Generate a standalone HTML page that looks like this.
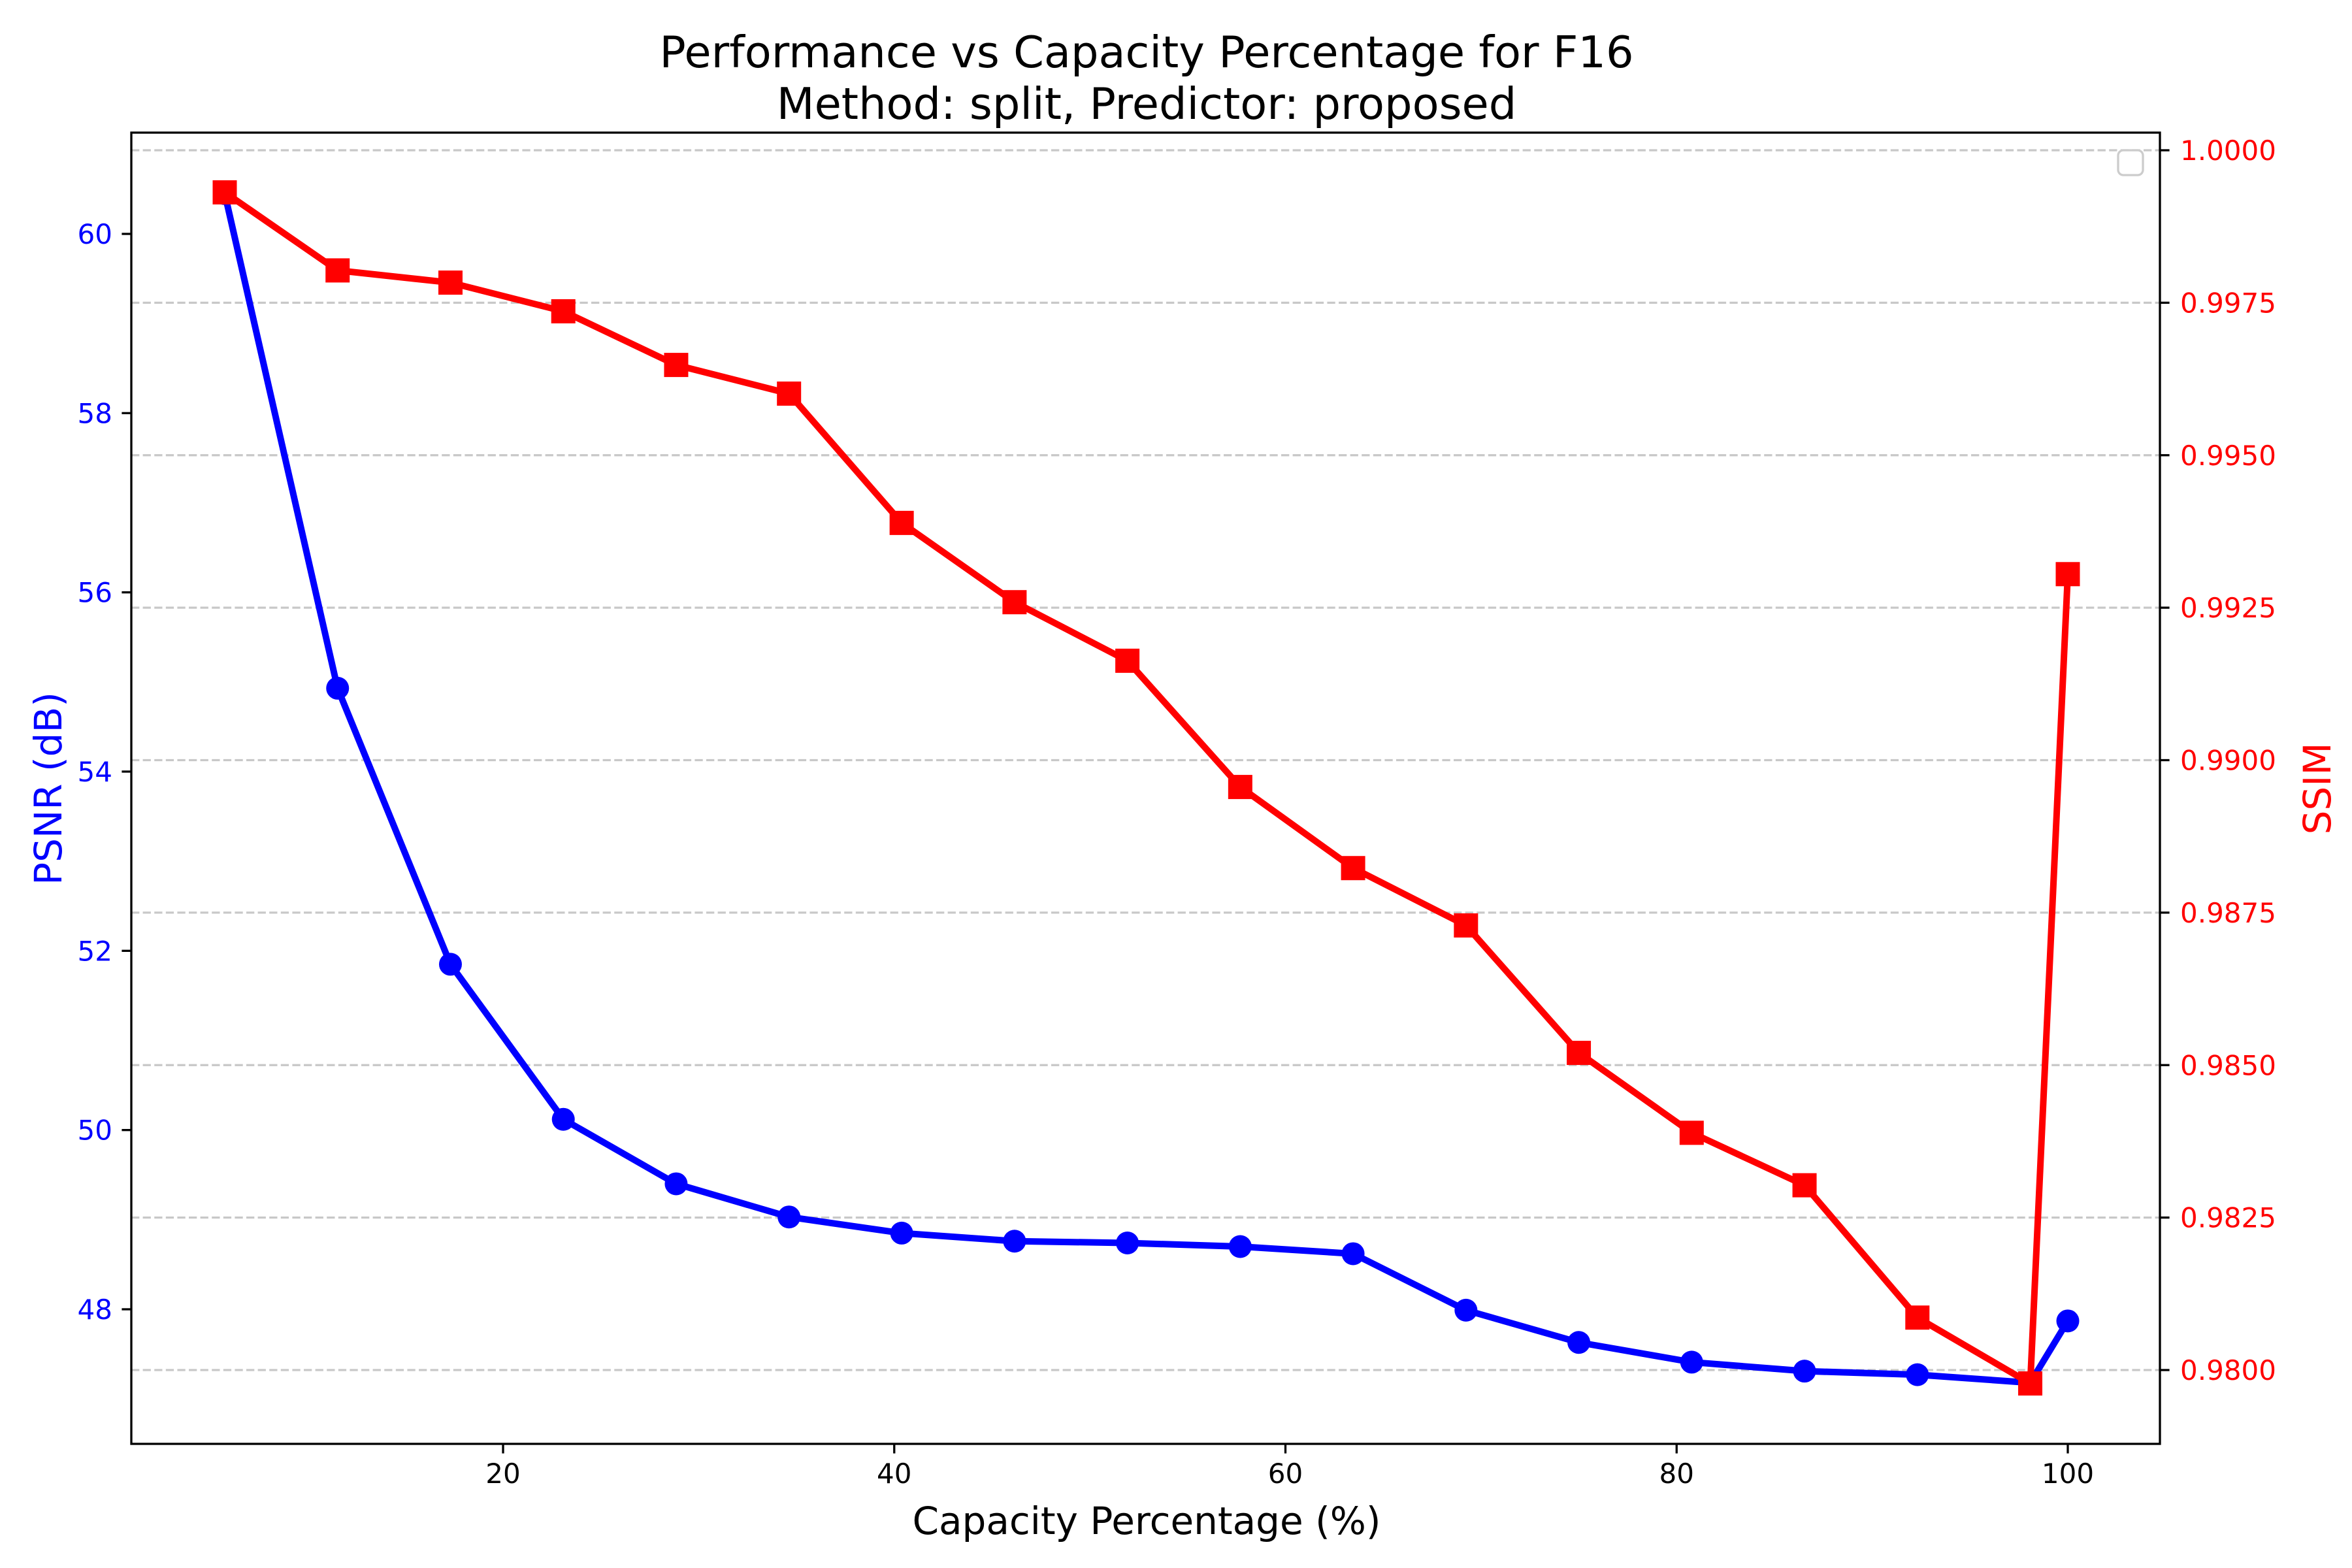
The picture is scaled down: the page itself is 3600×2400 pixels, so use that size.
<!DOCTYPE html>
<html><head><meta charset="utf-8"><style>
html,body{margin:0;padding:0;background:#fff;}
svg{display:block;font-family:"DejaVu Sans","Liberation Sans",sans-serif;}
</style></head><body>
<svg id="chart" width="3600" height="2400" viewBox="0 0 3600 2400">
<rect x="0" y="0" width="3600" height="2400" fill="#fff"/>
<g id="grid"></g>
<g id="series"></g>
<g id="axes"></g>
<text x="1755" y="103" text-anchor="middle" font-size="67">Performance vs Capacity Percentage for F16</text>
<text x="1755" y="182" text-anchor="middle" font-size="67">Method: split, Predictor: proposed</text>
<text x="1755" y="2348" text-anchor="middle" font-size="58">Capacity Percentage (%)</text>
<text transform="translate(94,1207) rotate(-90)" text-anchor="middle" font-size="58" fill="#0000ff">PSNR (dB)</text>
<text transform="translate(3567,1207) rotate(-90)" text-anchor="middle" font-size="58" fill="#ff0000">SSIM</text>
<rect x="3242" y="230" width="38" height="38" rx="8" fill="#fff" fill-opacity="0.8" stroke="#cccccc" stroke-width="3.3"/>
</svg>
<script>
const capacity = [5.77, 11.54, 17.31, 23.08, 28.85, 34.62, 40.38, 46.15, 51.92, 57.69, 63.46, 69.23, 75.0, 80.77, 86.54, 92.31, 98.08, 100];
const psnr = [60.45, 54.93, 51.85, 50.12, 49.40, 49.03, 48.85, 48.76, 48.74, 48.70, 48.62, 47.99, 47.63, 47.41, 47.31, 47.27, 47.18, 47.87];
const ssim = [0.99931, 0.99803, 0.99783, 0.99736, 0.99648, 0.99601, 0.99389, 0.99259, 0.99163, 0.98956, 0.98823, 0.98729, 0.98520, 0.98389, 0.98303, 0.98086, 0.97978, 0.99305];
const xTicks = [20, 40, 60, 80, 100];
const psnrTicks = [48, 50, 52, 54, 56, 58, 60];
const ssimTicks = [0.98, 0.9825, 0.985, 0.9875, 0.99, 0.9925, 0.995, 0.9975, 1.0];
const ssimTickLabels = ["0.9800","0.9825","0.9850","0.9875","0.9900","0.9925","0.9950","0.9975","1.0000"];

const L=201, R=3306, T=203, B=2210;
const X = v => 770 + (v-20)*(3165-770)/80;
const YL = v => 2004 - (v-48)*(2004-358)/12;
const YR = v => 2097 - (v-0.98)*(2097-230)/0.02;
const NS='http://www.w3.org/2000/svg';
function mk(tag, attrs, parent){const e=document.createElementNS(NS,tag);for(const k in attrs)e.setAttribute(k,attrs[k]);parent.appendChild(e);return e;}
const grid=document.getElementById('grid'), series=document.getElementById('series'), axes=document.getElementById('axes');

ssimTicks.forEach((t,i)=>{
  const y=YR(t);
  const g=mk('line',{x1:L,x2:R,y1:y,y2:y,stroke:'#c8c8c8','stroke-width':3.3,'stroke-dasharray':'12.3 5.3'},grid);
  
  
  const tk=mk('line',{x1:R,x2:R+14.6,y1:y,y2:y,stroke:'#000','stroke-width':3.3},axes);
  
  
  const tx=mk('text',{x:R+31,y:y+15,'font-size':42,fill:'#ff0000'},axes);
  tx.textContent=ssimTickLabels[i];
  
  
});
psnrTicks.forEach(t=>{
  const y=YL(t);
  const tk=mk('line',{x1:L-14.6,x2:L,y1:y,y2:y,stroke:'#000','stroke-width':3.3},axes);
  
  
  const tx=mk('text',{x:L-29,y:y+15,'font-size':42,fill:'#0000ff','text-anchor':'end'},axes);
  tx.textContent=String(t);
  
  
});
xTicks.forEach(t=>{
  const x=X(t);
  const tk=mk('line',{x1:x,x2:x,y1:B,y2:B+14.6,stroke:'#000','stroke-width':3.3},axes);
  
  
  const tx=mk('text',{x:x,y:B+60,'font-size':42,'text-anchor':'middle'},axes);
  tx.textContent=String(t);
  
  
});
const frame=mk('rect',{x:L,y:T,width:R-L,height:B-T,fill:'none',stroke:'#000','stroke-width':3.3},axes);



const pl=mk('polyline',{points:capacity.map((c,i)=>X(c)+','+YL(psnr[i])).join(' '),fill:'none',stroke:'#0000ff','stroke-width':10,'stroke-linejoin':'round','stroke-linecap':'square'},series);


capacity.forEach((c,i)=>{
  const m=mk('circle',{cx:X(c),cy:YL(psnr[i]),r:17.5,fill:'#0000ff'},series);
  
  
});
const sl=mk('polyline',{points:capacity.map((c,i)=>X(c)+','+YR(ssim[i])).join(' '),fill:'none',stroke:'#ff0000','stroke-width':10,'stroke-linejoin':'round','stroke-linecap':'square'},series);


capacity.forEach((c,i)=>{
  const m=mk('rect',{x:X(c)-18.5,y:YR(ssim[i])-18.5,width:37,height:37,fill:'#ff0000'},series);
  
  
});
</script>
</body></html>
